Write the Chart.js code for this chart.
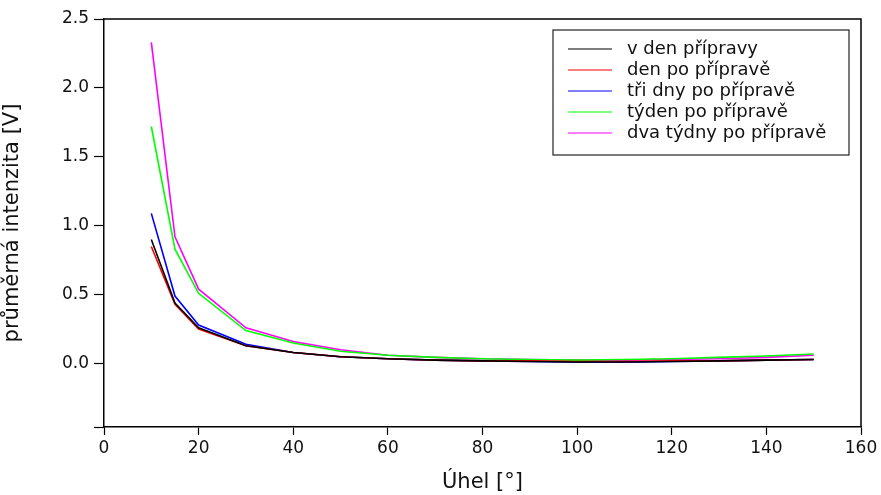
<!DOCTYPE html>
<html>
<head>
<meta charset="utf-8">
<script src="https://cdn.jsdelivr.net/npm/chart.js@4.4.1/dist/chart.umd.min.js"></script>
<style>
  html, body { margin: 0; padding: 0; background: #fff; }
  #wrap { width: 881px; height: 495px; }
</style>
</head>
<body>
<div id="wrap"><canvas id="graf"></canvas></div>
<script>
// uhly mereni
var uhly = [10, 15, 20, 30, 40, 50, 60, 70, 80, 90, 100, 110, 120, 130, 140, 150];

// prumerna intenzita pro jednotlive dny
var vDen     = [0.90, 0.44, 0.26, 0.13, 0.08, 0.05, 0.035, 0.025, 0.02, 0.015, 0.012, 0.012, 0.015, 0.02, 0.025, 0.03];
var denPo    = [0.85, 0.43, 0.25, 0.13, 0.08, 0.05, 0.035, 0.025, 0.02, 0.02, 0.015, 0.015, 0.02, 0.02, 0.025, 0.03];
var triDny   = [1.09, 0.49, 0.28, 0.14, 0.08, 0.05, 0.035, 0.025, 0.02, 0.015, 0.01, 0.01, 0.015, 0.02, 0.025, 0.03];
var tyden    = [1.72, 0.83, 0.51, 0.24, 0.15, 0.09, 0.06, 0.045, 0.035, 0.03, 0.025, 0.03, 0.035, 0.045, 0.055, 0.07];
var dvaTydny = [2.33, 0.92, 0.54, 0.26, 0.16, 0.10, 0.06, 0.045, 0.035, 0.03, 0.025, 0.025, 0.03, 0.035, 0.045, 0.06];

var nazvy = ['v den přípravy', 'den po přípravě', 'tři dny po přípravě', 'týden po přípravě', 'dva týdny po přípravě'];
var barvy = ['#000000', '#ff0000', '#0000ff', '#00ff00', '#ff00ff'];
var serie = [vDen, denPo, triDny, tyden, dvaTydny];

var pismo = '"DejaVu Sans", Arial, sans-serif';

function body(hodnoty) {  // spojime uhly a hodnoty do bodu
    var out = [];
    for (var i = 0; i < uhly.length; i++) {
        out.push({ x: uhly[i], y: hodnoty[i] });
    }
    return out;
}

var datasets = [];
for (var i = 0; i < serie.length; i++) {
    datasets.push({
        label: nazvy[i],
        data: body(serie[i]),
        borderColor: barvy[i],
        backgroundColor: barvy[i],
        borderWidth: 1.6,
        pointRadius: 0,
        tension: 0,
        fill: false
    });
}

// ramecek kolem grafu + legenda uvnitr
var ramecek = {
    id: 'ramecek',
    afterDraw: function(chart) {
        var ctx = chart.ctx;
        var a = chart.chartArea;
        ctx.save();
        ctx.strokeStyle = '#000';
        ctx.lineWidth = 1.5;
        ctx.beginPath();
        ctx.moveTo(a.left, a.top);
        ctx.lineTo(a.right, a.top);
        ctx.lineTo(a.right, a.bottom);
        ctx.stroke();

        // legenda
        var lx = a.right - 308, ly = a.top + 11, lw = 296, lh = 125;
        ctx.lineWidth = 1.2;
        ctx.strokeStyle = '#222';
        ctx.strokeRect(lx, ly, lw, lh);
        ctx.font = '18px ' + pismo;
        ctx.textBaseline = 'middle';
        ctx.fillStyle = '#111';
        chart.data.datasets.forEach(function(ds, k) {
            var y = ly + 19 + k * 21;
            ctx.strokeStyle = ds.borderColor;
            ctx.lineWidth = 1.2;
            ctx.beginPath();
            ctx.moveTo(lx + 15, y);
            ctx.lineTo(lx + 59, y);
            ctx.stroke();
            ctx.fillText(ds.label, lx + 74, y);
        });
        ctx.restore();
    }
};

new Chart(document.getElementById('graf'), {
    type: 'line',
    data: { datasets: datasets },
    options: {
        responsive: true,
        maintainAspectRatio: false,
        animation: false,
        layout: { padding: { top: 19, right: 20, left: 0, bottom: 0 } },
        plugins: {
            legend: { display: false },
            tooltip: { enabled: false }
        },
        scales: {
            x: {
                type: 'linear',
                min: 0,
                max: 160,
                ticks: {
                    stepSize: 20,
                    color: '#111',
                    font: { family: pismo, size: 17 },
                    padding: 3
                },
                grid: { drawOnChartArea: false, tickLength: 8, color: '#000', tickWidth: 1.2 },
                border: { color: '#000', width: 1.5 },
                title: {
                    display: true,
                    text: 'Úhel [°]',
                    color: '#111',
                    font: { family: pismo, size: 21 },
                    padding: { top: 6, bottom: 0 }
                },
                afterFit: function(s) { s.height = 68; }
            },
            y: {
                min: -0.46,
                max: 2.5,
                ticks: {
                    stepSize: 0.5,
                    color: '#111',
                    font: { family: pismo, size: 17 },
                    padding: 5,
                    callback: function(v) { return v < -0.001 ? '' : v.toFixed(1); }
                },
                grid: { drawOnChartArea: false, tickLength: 10, color: '#000', tickWidth: 1.2 },
                border: { color: '#000', width: 1.5 },
                title: {
                    display: true,
                    text: 'průměrná intenzita [V]',
                    color: '#111',
                    font: { family: pismo, size: 21 },
                    padding: { top: 0, bottom: 2 }
                },
                afterFit: function(s) { s.width = 104; }
            }
        }
    },
    plugins: [ramecek]
});
</script>
</body>
</html>
